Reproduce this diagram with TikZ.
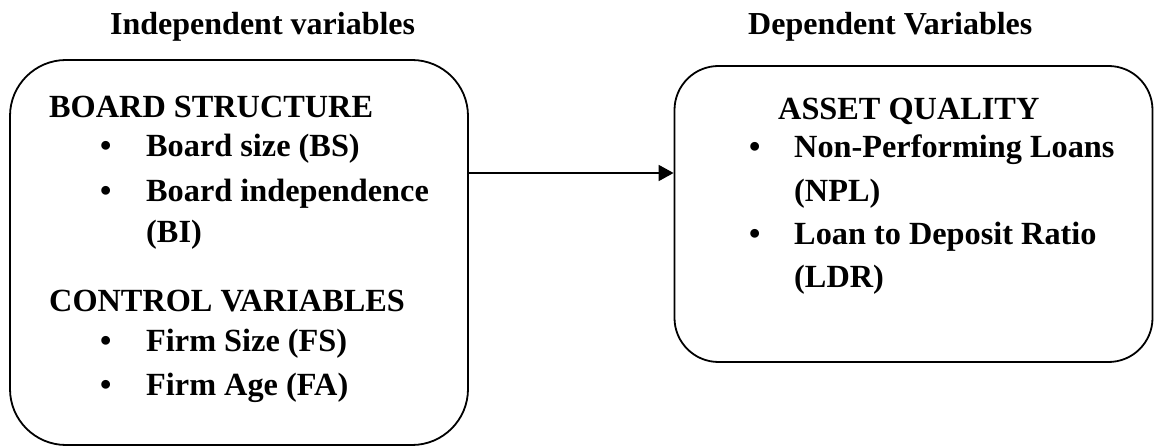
\documentclass[tikz,border=0pt]{standalone}
\usepackage{fontspec}
\setmainfont{Liberation Serif}
\usetikzlibrary{arrows.meta}
\begin{document}
\begin{tikzpicture}[x=1pt,y=-1pt,
  box/.style={draw, line width=1.8pt, inner sep=0pt},
  txt/.style={anchor=base west, inner sep=0pt, font=\fontsize{32.3}{36}\selectfont\bfseries},
  head/.style={anchor=base west, inner sep=0pt, font=\fontsize{32}{36}\selectfont\bfseries},
  conn/.style={line width=1.8pt, -{Triangle[length=15pt,width=16pt]}}]
\useasboundingbox (0,0) rectangle (1154,446);
\node[box, rounded corners=56pt, minimum width=458pt, minimum height=385pt] (left) at (239,252.5) {};
\node[box, rounded corners=44pt, minimum width=478pt, minimum height=296pt] (right) at (913.5,214) {};
\node[head] (h1) at (110,35) {Independent variables};
\node[head] (h2) at (748,35) {Dependent Variables};
% left box
\node[txt] (t1) at (49,118) {BOARD STRUCTURE};
\node[txt] (b1) at (100,157) {•};
\node[txt] (t2) at (146,157) {Board size (BS)};
\node[txt] (b2) at (100,202) {•};
\node[txt] (t3) at (146,202) {Board independence};
\node[txt] (t4) at (146,243) {(BI)};
\node[txt] (t5) at (49,312) {CONTROL VARIABLES};
\node[txt] (b3) at (100,352) {•};
\node[txt] (t6) at (146,352) {Firm Size (FS)};
\node[txt] (b4) at (100,395) {•};
\node[txt] (t7) at (146,395) {Firm Age (FA)};
% right box
\node[txt] (r1) at (778,120) {ASSET QUALITY};
\node[txt] (c1) at (749,158) {•};
\node[txt] (r2) at (794,158) {Non-Performing Loans};
\node[txt] (r3) at (794,202) {(NPL)};
\node[txt] (c2) at (749,245) {•};
\node[txt] (r4) at (794,245) {Loan to Deposit Ratio};
\node[txt] (r5) at (794,288) {(LDR)};
\coordinate (ay) at (0,173);
\draw[conn] (left.east |- ay) -- (right.west |- ay);
\end{tikzpicture}
\end{document}
